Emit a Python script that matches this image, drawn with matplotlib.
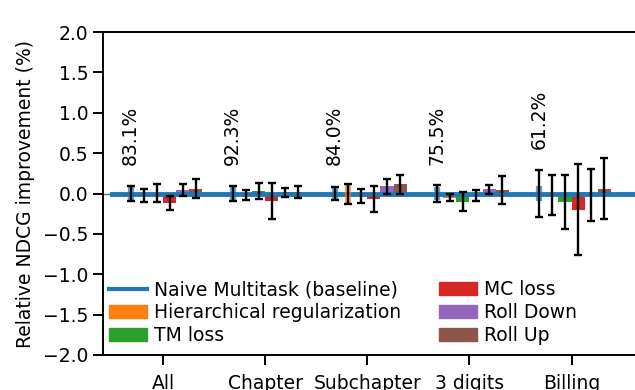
import numpy as np
import matplotlib
matplotlib.use("Agg")
import matplotlib.pyplot as plt
from matplotlib.lines import Line2D
from matplotlib.patches import Patch

plt.rcParams['font.size'] = 13.5

# ── results per ICD level ─────────────────────────────────────────
groups   = ['All', 'Chapter', 'Subchapter', '3 digits', 'Billing']
coverage = ['83.1%', '92.3%', '84.0%', '75.5%', '61.2%']

methods = ['Naive Multitask (baseline)', 'Hierarchical regularization',
           'TM loss', 'MC loss', 'Roll Down', 'Roll Up']
colors  = ['#1f77b4', '#ff7f0e', '#2ca02c', '#d62728', '#9467bd', '#8c564b']

baseline     = [0.0, 0.0, 0.0, 0.0, 0.0]
baseline_err = [0.09, 0.09, 0.08, 0.10, 0.29]
hier         = [-0.02, -0.02, -0.01, -0.05, -0.02]
hier_err     = [0.08, 0.06, 0.125, 0.04, 0.25]
tm           = [0.01, 0.03, -0.03, -0.10, -0.105]
tm_err       = [0.11, 0.10, 0.09, 0.12, 0.335]
mc           = [-0.12, -0.09, -0.07, -0.025, -0.20]
mc_err       = [0.09, 0.22, 0.165, 0.07, 0.56]
roll_down    = [0.045, 0.015, 0.09, 0.05, -0.02]
roll_down_err = [0.075, 0.055, 0.09, 0.06, 0.325]
roll_up      = [0.06, 0.02, 0.115, 0.04, 0.06]
roll_up_err  = [0.12, 0.075, 0.12, 0.175, 0.375]

# spread over seeds (shown as a coloured band behind some error bars)
baseline_spread = [0.09, 0.09, 0.08, 0.08, 0.095]
hier_spread     = [0.0, 0.0, 0.11, 0.0, 0.0]

values = [baseline, hier, tm, mc, roll_down, roll_up]
errors = [baseline_err, hier_err, tm_err, mc_err, roll_down_err, roll_up_err]
spreads = [baseline_spread, hier_spread, None, None, None, None]

# ── plot ──────────────────────────────────────────────────────────
fig = plt.figure(figsize=(6.35, 3.9), dpi=100)
ax = fig.add_axes([103 / 635, 1 - 355 / 390, 540 / 635, 323 / 390])

x = np.arange(len(groups))
width = 0.128

ax.axhline(0, color=colors[0], lw=1, zorder=1)
ax.plot([-0.5, 5], [0, 0], color=colors[0], lw=3.5, zorder=3)

for i, (vals, errs, col) in enumerate(zip(values, errors, colors)):
    pos = x + (i - 2.5) * width
    ax.bar(pos, vals, width, color=col, zorder=2)
    if spreads[i] is not None:
        for p, v, s in zip(pos, vals, spreads[i]):
            if s > 0:
                ax.vlines(p, v - s, v + s, color=col, lw=4.5, alpha=0.7, zorder=3.5)
    ax.errorbar(pos, vals, yerr=errs, fmt='none', ecolor='black',
                elinewidth=1.7, capsize=2.8, capthick=1.7, zorder=4)

# coverage labels above the first bar of each group
tops = np.max(np.array(values) + np.array(errors), axis=0)
for g in range(len(groups)):
    y = max(0.35, tops[g] + 0.12)
    ax.text(x[g] - 2.5 * width, y, coverage[g], rotation=90,
            ha='center', va='bottom')

ax.set_xlim(-0.59, 4.7)
ax.set_ylim(-2, 2)
ax.set_yticks(np.arange(-2, 2.01, 0.5))
ax.set_yticklabels([f'{t:.1f}'.replace('-', '\u2212') for t in np.arange(-2, 2.01, 0.5)])
ax.set_xticks(x)
ax.set_xticklabels(groups)
ax.tick_params(axis='x', pad=7, length=7, width=1.4)
ax.tick_params(axis='y', length=7, width=1.4)
for s in ax.spines.values():
    s.set_linewidth(1.4)
ax.set_ylabel('Relative NDCG improvement (%)', labelpad=6)

handles = [Line2D([0], [0], color=colors[0], lw=3)]
handles += [Patch(color=c) for c in colors[1:]]
ax.legend(handles, methods, ncol=2, frameon=False, loc='lower left',
          bbox_to_anchor=(-0.009, -0.005), borderaxespad=0.2,
          handletextpad=0.4, labelspacing=0.22, columnspacing=2.0)

fig.savefig('out.png', dpi=100)
